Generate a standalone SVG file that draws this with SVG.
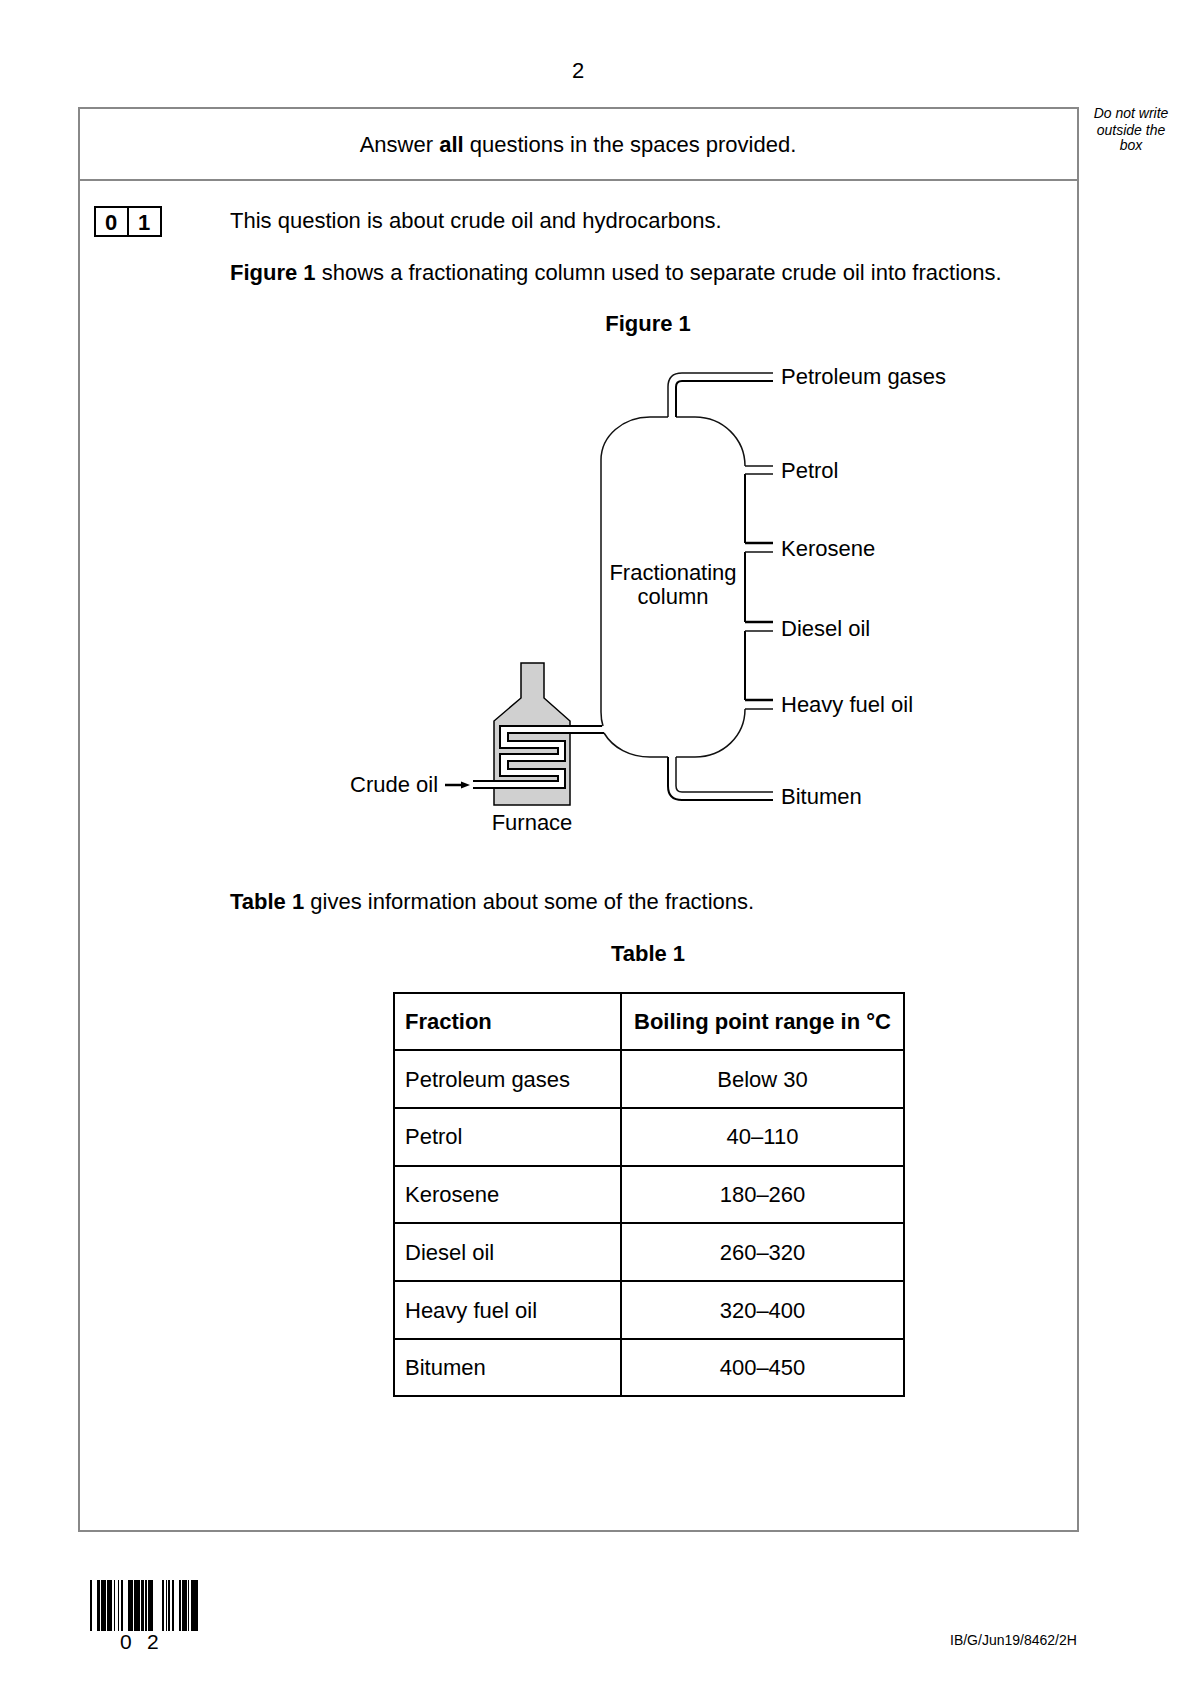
<svg xmlns="http://www.w3.org/2000/svg" width="1191" height="1684" viewBox="0 0 1191 1684">
<style>
text{font-family:"Liberation Sans",Arial,sans-serif;font-size:22px;fill:#000}
.b{font-weight:bold}
.m{text-anchor:middle}
.s{font-size:14px;font-style:italic;text-anchor:middle}
.f{font-size:14px}
.l{fill:none;stroke:#000;stroke-width:2}
.n{fill:none;stroke:#111;stroke-width:1.500}
.h{fill:none;stroke:#000;stroke-width:2.500}
.t{fill:none;stroke:#000;stroke-width:2}
.g{fill:none;stroke:#888;stroke-width:2}
.d{font-size:21px}
</style>
<rect width="1191" height="1684" fill="#fff"/>
<g id="page-frame">
<rect class="g" x="79" y="108" width="999" height="1423"/>
<path class="g" d="M79 180H1078"/>
</g>
<text class="m" x="578" y="78">2</text>
<g id="margin-note">
<text class="s" x="1131" y="118">Do not write</text>
<text class="s" x="1131" y="135">outside the</text>
<text class="s" x="1131" y="150">box</text>
</g>
<text class="m" x="578" y="152">Answer <tspan class="b">all</tspan> questions in the spaces provided.</text>
<g id="question-number">
<rect class="t" x="95" y="207" width="66" height="29"/>
<path class="t" d="M128 207V236"/>
<text class="b m" x="111" y="230">0</text>
<text class="b m" x="144" y="230">1</text>
</g>
<text x="230" y="228">This question is about crude oil and hydrocarbons.</text>
<text x="230" y="280"><tspan class="b">Figure 1</tspan> shows a fractionating column used to separate crude oil into fractions.</text>
<text class="b m" x="648" y="331">Figure 1</text>
<g id="furnace">
<path d="M521 663H544V698L570 721V805H494V721L521 698Z" fill="#d0d0d0" stroke="#000" stroke-width="1.500"/>
<path d="M602 726H500V748H558V754H500V776H558V781H473V788H565V769H508V761H565V741H508V733H604Z" fill="#fff" stroke="none"/>
<path class="l" d="M602 726H500V748H558V754H500V776H558V781H473"/>
<path class="l" d="M604 733H508V741H565V761H508V769H565V788H473"/>
</g>
<g id="column">
<path class="n" d="M668 417H650C623 417 601 436 601 460V712Q601 720 603 726M604 733C613 748 630 757 650 757H668M676 757H695C723 757 745 736 745 709M745 466C745 439 723 417 695 417H676"/>
<path class="l" d="M745 474V543M745 552V622M745 631V700"/>
<text class="m" x="673" y="580">Fractionating</text>
<text class="m" x="673" y="604">column</text>
</g>
<g id="connectors">
<path class="n" d="M668 417V387Q668 373 682 373H773"/>
<path class="l" d="M676 417V387Q676 381 682 381H773"/>
<path class="n" d="M745 466H773M745 474H773"/>
<path class="h" d="M745 543H773"/>
<path class="n" d="M745 552H773"/>
<path class="h" d="M745 622H773"/>
<path class="n" d="M745 631H773"/>
<path class="h" d="M745 700H773"/>
<path class="n" d="M745 709H773"/>
<path class="l" d="M668 757V786Q668 800 682 800H773"/>
<path class="n" d="M676 757V786Q676 792 682 792H773"/>
<path d="M445 785H463" stroke="#000" stroke-width="2.500" fill="none"/>
<path d="M470 785L461 781.500V788.500Z" fill="#000"/>
</g>
<g id="labels">
<text x="781" y="384">Petroleum gases</text>
<text x="781" y="478">Petrol</text>
<text x="781" y="556">Kerosene</text>
<text x="781" y="636">Diesel oil</text>
<text x="781" y="712">Heavy fuel oil</text>
<text x="781" y="804">Bitumen</text>
<text x="350" y="792">Crude oil</text>
<text class="m" x="532" y="830">Furnace</text>
</g>
<text x="230" y="909"><tspan class="b">Table 1</tspan> gives information about some of the fractions.</text>
<text class="b m" x="648" y="961">Table 1</text>
<g id="table">
<path class="t" d="M394 993H904V1396H394ZM621 993V1396M394 1050H904M394 1108H904M394 1166H904M394 1223H904M394 1281H904M394 1339H904"/>
<text class="b" x="405" y="1029">Fraction</text>
<text class="b m" x="762.500" y="1029">Boiling point range in °C</text>
<text x="405" y="1087">Petroleum gases</text><text class="m" x="762.500" y="1087">Below 30</text>
<text x="405" y="1144">Petrol</text><text class="m" x="762.500" y="1144">40–110</text>
<text x="405" y="1202">Kerosene</text><text class="m" x="762.500" y="1202">180–260</text>
<text x="405" y="1260">Diesel oil</text><text class="m" x="762.500" y="1260">260–320</text>
<text x="405" y="1318">Heavy fuel oil</text><text class="m" x="762.500" y="1318">320–400</text>
<text x="405" y="1375">Bitumen</text><text class="m" x="762.500" y="1375">400–450</text>
</g>
<g id="barcode" fill="#000">
<path d="M90 1580h2v51h-2zM97 1580h3v51h-3zM101 1580h5v51h-5zM107 1580h5v51h-5zM114 1580h1v51h-1zM118 1580h1v51h-1zM121 1580h2v51h-2zM128 1580h5v51h-5zM134 1580h6v51h-6zM141 1580h3v51h-3zM145 1580h2v51h-2zM148 1580h5v51h-5zM162 1580h2v51h-2zM166 1580h1v51h-1zM168 1580h2v51h-2zM172 1580h2v51h-2zM179 1580h2v51h-2zM182 1580h5v51h-5zM188 1580h1v51h-1zM191 1580h7v51h-7z"/>
<text class="d" x="120" y="1649">0</text>
<text class="d" x="147" y="1649">2</text>
</g>
<text class="f" x="950" y="1645">IB/G/Jun19/8462/2H</text>
</svg>
